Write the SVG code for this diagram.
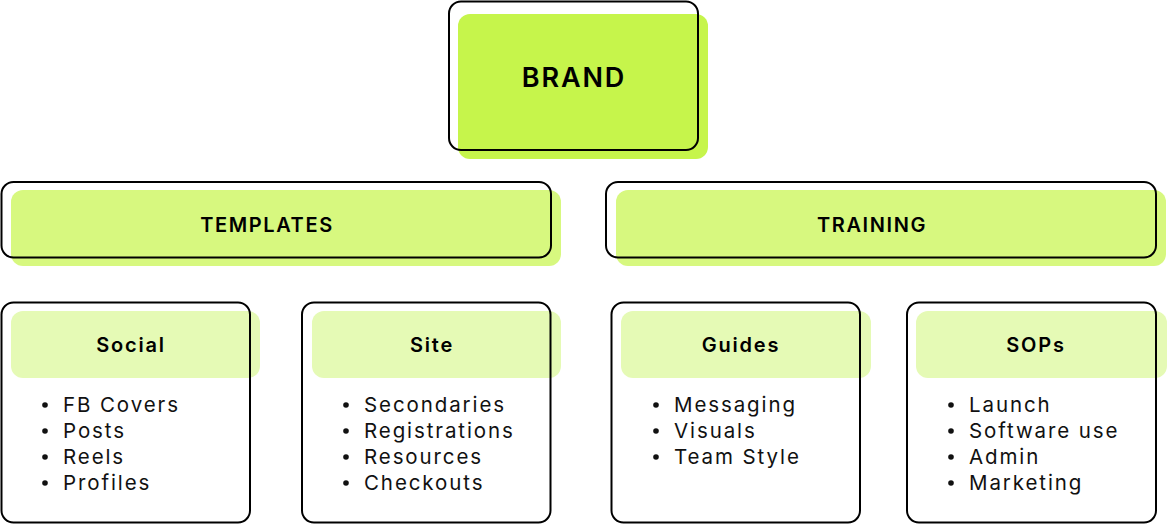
<svg xmlns="http://www.w3.org/2000/svg" width="1167" height="525" viewBox="0 0 1167 525">
<style>
.o{fill:none;stroke:#000;stroke-width:2}
.t{font-family:Inter,"Noto Sans",sans-serif;font-weight:600;fill:#000;text-anchor:middle}
.h{font-family:Inter,"Noto Sans",sans-serif;font-weight:600;fill:#000;text-anchor:middle;font-size:20px;letter-spacing:1.8px}
.i{font-family:Inter,"Noto Sans",sans-serif;font-weight:400;fill:#111;font-size:20.5px;letter-spacing:1.9px}
.b{fill:#111}
.g1{fill:#C6F54B}
.g2{fill:#D7F87F}
.g3{fill:#E5FAB5}
</style>
<rect width="1167" height="525" fill="#fff"/>
<g id="connectors"></g>
<g id="brand">
<rect class="g1" x="458" y="14" width="250" height="145" rx="12"/>
<rect class="o" x="449" y="1.5" width="249" height="148.5" rx="12"/>
<text class="t" x="574" y="87" font-size="27" letter-spacing="1.9">BRAND</text>
</g>
<g id="templates">
<rect class="g2" x="11" y="190" width="550" height="76" rx="12"/>
<rect class="o" x="1.5" y="182" width="549.5" height="75.5" rx="12"/>
<text class="t" x="267" y="232" font-size="20" letter-spacing="1.6">TEMPLATES</text>
</g>
<g id="training">
<rect class="g2" x="616" y="190" width="550" height="76" rx="12"/>
<rect class="o" x="606" y="182" width="550" height="75.5" rx="12"/>
<text class="t" x="872" y="232" font-size="20" letter-spacing="1.6">TRAINING</text>
</g>
<g id="social">
<rect class="g3" x="11" y="311" width="249" height="67" rx="12"/>
<rect class="o" x="1.5" y="302.5" width="248.5" height="220" rx="12"/>
<text class="h" x="131" y="352">Social</text>
<circle class="b" cx="45" cy="405" r="2.8"/><text class="i" x="63" y="412">FB Covers</text>
<circle class="b" cx="45" cy="431" r="2.8"/><text class="i" x="63" y="438">Posts</text>
<circle class="b" cx="45" cy="457" r="2.8"/><text class="i" x="63" y="464">Reels</text>
<circle class="b" cx="45" cy="483" r="2.8"/><text class="i" x="63" y="490">Profiles</text>
</g>
<g id="site">
<rect class="g3" x="312" y="311" width="249" height="67" rx="12"/>
<rect class="o" x="302" y="302.5" width="248.5" height="220" rx="12"/>
<text class="h" x="432" y="352">Site</text>
<circle class="b" cx="346" cy="405" r="2.8"/><text class="i" x="364" y="412">Secondaries</text>
<circle class="b" cx="346" cy="431" r="2.8"/><text class="i" x="364" y="438">Registrations</text>
<circle class="b" cx="346" cy="457" r="2.8"/><text class="i" x="364" y="464">Resources</text>
<circle class="b" cx="346" cy="483" r="2.8"/><text class="i" x="364" y="490">Checkouts</text>
</g>
<g id="guides">
<rect class="g3" x="621" y="311" width="250" height="67" rx="12"/>
<rect class="o" x="611.5" y="302.5" width="248.5" height="220" rx="12"/>
<text class="h" x="741" y="352">Guides</text>
<circle class="b" cx="656" cy="405" r="2.8"/><text class="i" x="674" y="412">Messaging</text>
<circle class="b" cx="656" cy="431" r="2.8"/><text class="i" x="674" y="438">Visuals</text>
<circle class="b" cx="656" cy="457" r="2.8"/><text class="i" x="674" y="464">Team Style</text>
</g>
<g id="sops">
<rect class="g3" x="916" y="311" width="251" height="67" rx="12"/>
<rect class="o" x="907" y="302.5" width="249" height="220" rx="12"/>
<text class="h" x="1036" y="352">SOPs</text>
<circle class="b" cx="951" cy="405" r="2.8"/><text class="i" x="969" y="412">Launch</text>
<circle class="b" cx="951" cy="431" r="2.8"/><text class="i" x="969" y="438">Software use</text>
<circle class="b" cx="951" cy="457" r="2.8"/><text class="i" x="969" y="464">Admin</text>
<circle class="b" cx="951" cy="483" r="2.8"/><text class="i" x="969" y="490">Marketing</text>
</g>
</svg>
